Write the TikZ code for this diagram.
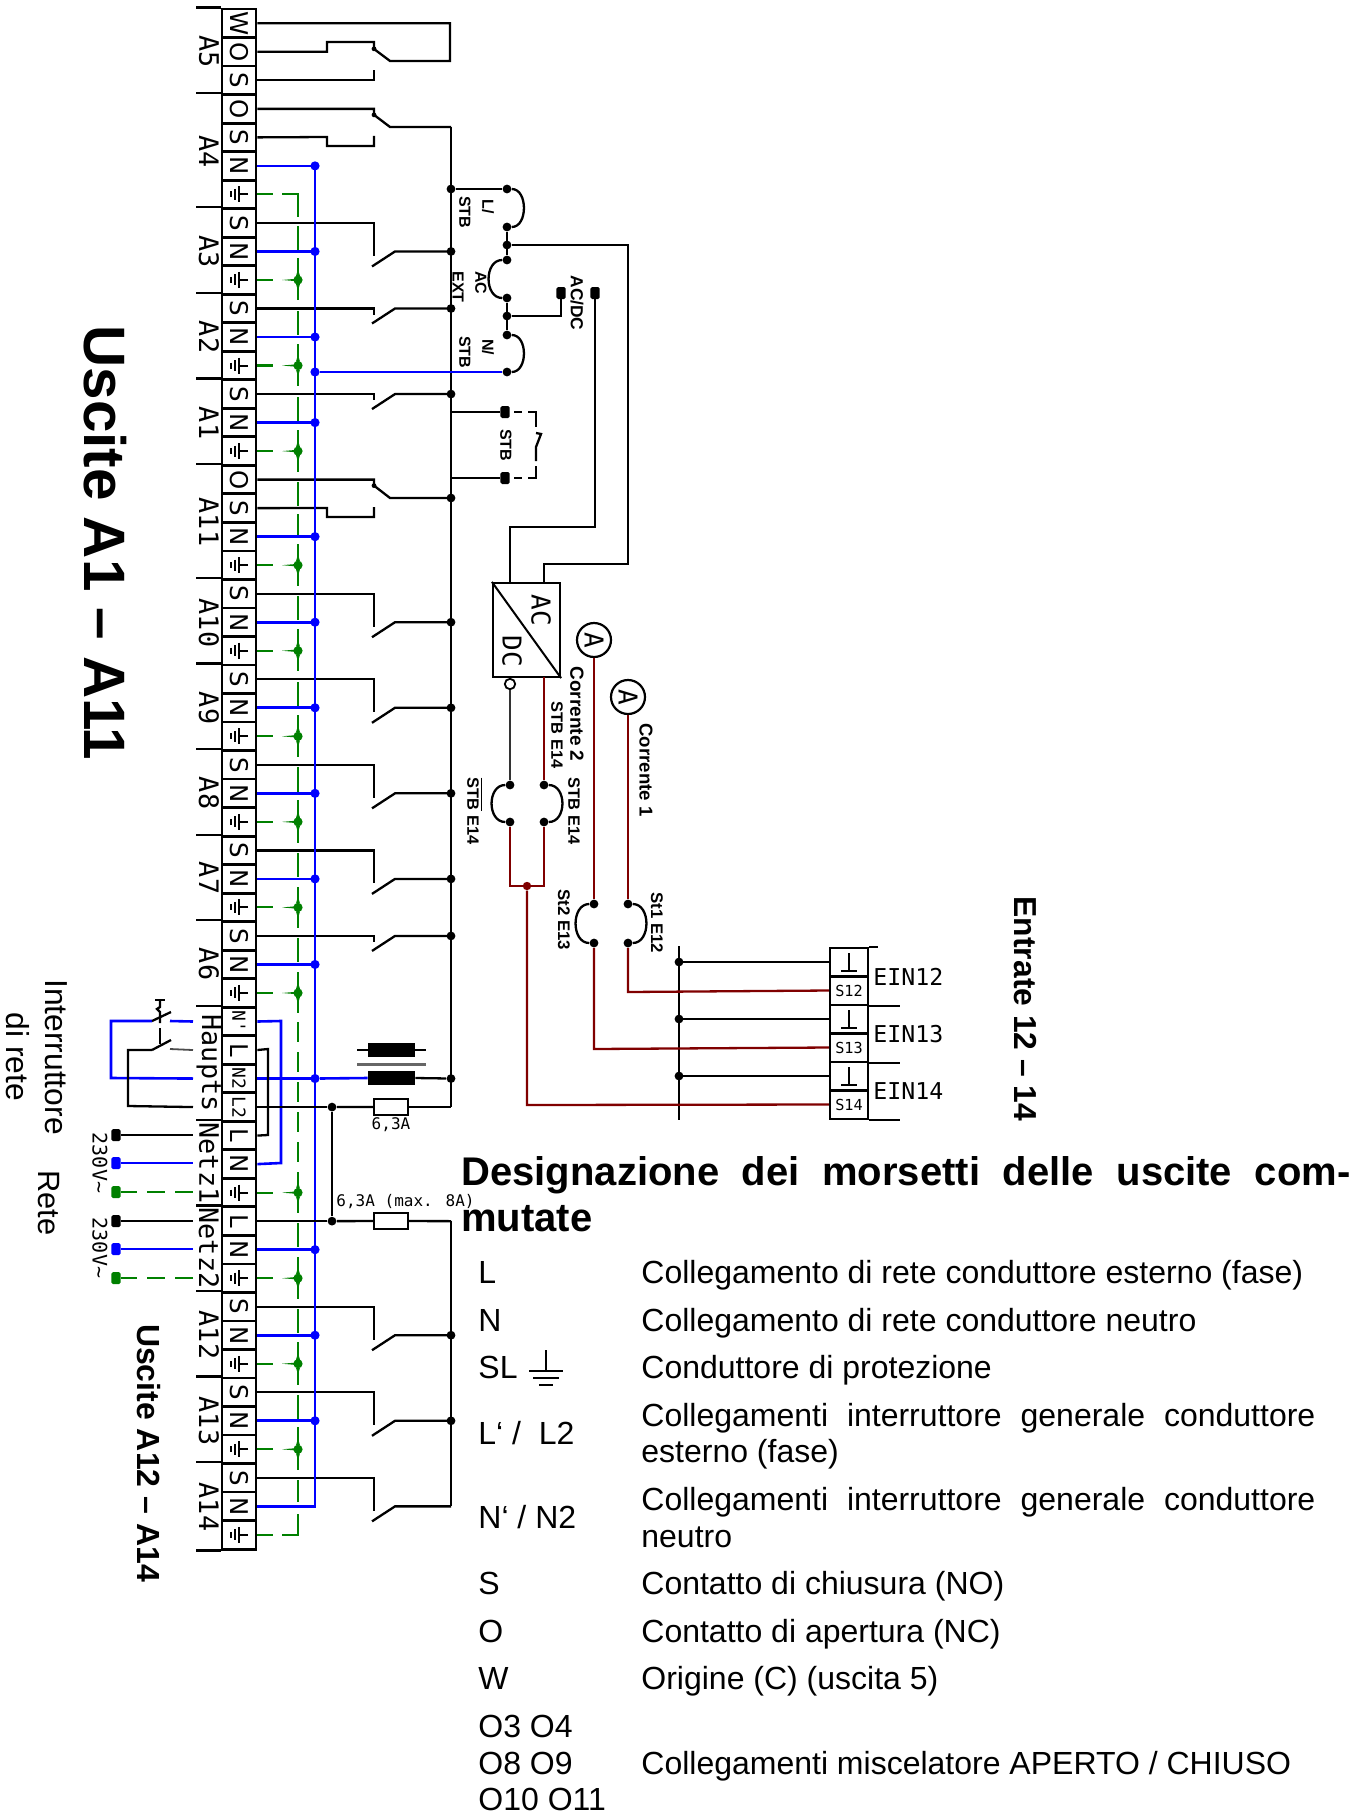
\documentclass[tikz,border=0pt]{standalone}
\usepackage{graphicx}
\usepackage{fontspec}
\setmainfont{Liberation Sans}
\newfontfamily\monof{DejaVu Sans Mono}
\newfontfamily\dejav{DejaVu Sans}
\newcommand{\rot}[1]{\rotatebox{-90}{#1}}
\newcommand{\fsz}[1]{\fontsize{#1}{#1}\selectfont}
\definecolor{wblue}{HTML}{0000FF}
\definecolor{wgreen}{HTML}{008000}
\definecolor{wred}{HTML}{800000}
\tikzset{
  term/.style={draw,line width=1.4pt,fill=white,minimum width=17pt,minimum height=14.26pt,inner sep=0pt,font=\dejav\fsz{12.2}},
  termsm/.style={term,font=\monof\fsz{9}},
  w/.style={line width=1.15pt,black},
  wb/.style={line width=1.3pt,wblue},
  wg/.style={line width=1.05pt,wgreen},
  wr/.style={line width=1.15pt,wred},
  jd/.style={circle,fill=black,inner sep=0pt,minimum size=4.4pt},
  jb/.style={circle,fill=wblue,inner sep=0pt,minimum size=4.6pt},
  jg/.style={circle,fill=wgreen,inner sep=0pt,minimum size=4.6pt},
  jr/.style={circle,fill=wred,inner sep=0pt,minimum size=4.2pt},
  sq/.style={rounded corners=.8pt,fill=black,inner sep=0pt,minimum width=4.6pt,minimum height=6pt},
  grp/.style={font=\monof\fsz{13.4},inner sep=0pt,rotate=-90},
  mono/.style={font=\monof\fsz{8},inner sep=0pt},
  lab/.style={font=\bfseries\fsz{8},inner sep=0pt,rotate=-90},
  fuse/.style={draw,line width=1.1pt,fill=white,minimum width=17pt,minimum height=8pt,inner sep=0pt},
  choke/.style={fill=black,minimum width=23.5pt,minimum height=7pt,inner sep=0pt},
  meter/.style={circle,draw,line width=1.1pt,fill=white,minimum size=17pt,inner sep=0pt,font=\monof\fsz{13}},
  leg/.style={anchor=base west,inner sep=0pt,font=\fsz{16}},
  hd/.style={anchor=base west,inner sep=0pt,font=\bfseries\fsz{20}},
  ein/.style={draw,line width=1.2pt,fill=white,minimum width=19pt,minimum height=14.2pt,inner sep=0pt},
  einl/.style={font=\monof\fsz{11.6},anchor=west,inner sep=0pt},
}
\begin{document}
\begin{tikzpicture}[x=0.5pt,y=-0.5pt]
\path[use as bounding box] (0,0) rectangle (1368,1814);
% ---- reference coordinates
\coordinate (gbus) at (298,0);
\coordinate (nbus) at (315,0);
\coordinate (cpin) at (374,0);
\coordinate (lbus) at (451,0);
\coordinate (jx) at (332,0);
\coordinate (swl) at (193,0);

% ---- terminal strip
\foreach \i/\t in {0/W,1/O,2/S,3/O,4/S,5/N,7/S,8/N,10/S,11/N,13/S,14/N,16/O,17/S,18/N,20/S,21/N,23/S,24/N,26/S,27/N,29/S,30/N,32/S,33/N,36/L,39/L,40/N,42/L,43/N,45/S,46/N,48/S,49/N,51/S,52/N}
  {\node[term] (t\i) at (239,{23.3+28.52*\i}) {\rot{\t}};}
\foreach \i/\t in {35/N',37/N2,38/L2}
  {\node[termsm] (t\i) at (239,{23.3+28.52*\i}) {\rot{\t}};}
\foreach \i in {6,9,12,15,19,22,25,28,31,34,41,44,47,50,53}{
  \node[term] (t\i) at (239,{23.3+28.52*\i}) {};
  \draw[line width=1pt] (t\i.center) ++(9,0) -- ++(-9,0) ++(0,-8) -- ++(0,16) ++(-4,-13.5) -- ++(0,11) ++(-4,-8.5) -- ++(0,6);
}
% group ticks
\foreach \i in {0,3,7,10,13,16,20,23,26,29,32,35,39,42,45,48,51}
  {\draw[w] (t\i.north west) -- ++(-25,0);}
\draw[w] (t53.south west) -- ++(-25,0);
% group labels
\foreach \n/\y/\t in {g1/52/A5,g2/152/A4,g3/252/A3,g4/337/A2,g5/423/A1,g6/522/A11,g7/623/A10,g8/708/A9,g9/793/A8,g10/878/A7,g11/964/A6,g12/1335/A12,g13/1421/A13,g14/1507/A14,g15/1063/Haupts,g16/1163/Netz1,g17/1248/Netz2}
  {\node[grp] (\n) at (209,\y) {\t};}

% ---- green earth bus
\foreach \a/\b in {226/250,258/300,311/335,344/386,397/421,430/472,482/506,514/536,544/586,596/620,629/671,682/706,715/757,767/792,800/843,853/877,887/928,938/962,972/1013,1022/1042,1052/1072,1082/1102,1112/1132,1142/1162,1172/1213,1223/1247,1257/1299,1309/1333,1342/1385,1395/1420,1427/1470,1480/1502}
  {\draw[wg] (gbus |- 0,\a) -- (gbus |- 0,\b);}
\draw[wg] (t6 -| gbus) ++(-16,0) -- (t6 -| gbus) -- ++(0,23);
\draw[wg] (t53 -| gbus) ++(-16,0) -- (t53 -| gbus) -- ++(0,-21);
\draw[wg] (t6.east) -- ++(16,0);
\draw[wg] (t53.east) -- ++(16,0);
\foreach \i in {9,12,15,19,22,25,28,31,34,41,44,47,50}{
  \draw[wg] (t\i.east) -- ++(16,0);
  \fill[wgreen] (t\i -| gbus) ++(-16,0) .. controls +(11,-1) and +(-1,1) .. ++(16,-2) -- ++(0,4) .. controls +(-1,-1) and +(11,1) .. ++(-16,-2) -- cycle;
  \fill[wgreen] (t\i -| gbus) ++(0,-18) .. controls +(.3,10) and +(-1,-3) .. ++(2,14) -- ++(-4,0) .. controls +(1,-3) and +(-.3,10) .. ++(2,-14) -- cycle;
  \fill[wgreen] (t\i -| gbus) ++(0,18) .. controls +(.3,-10) and +(-1,3) .. ++(2,-14) -- ++(-4,0) .. controls +(1,3) and +(-.3,-10) .. ++(2,14) -- cycle;
  \node[jg] (dg\i) at (t\i -| gbus) {};
}

% ---- black contacts: long pin type
\foreach \s/\n in {7/8,20/21,23/24,26/27,29/30,45/46,48/49,51/52}{
  \draw[w] (t\s.east) -- (t\s -| cpin) -- ++(0,33);
  \draw[w] (t\n -| cpin) ++(-2,15) -- ++(23,-15) -- (t\n -| lbus);
}
% short pin type
\foreach \s in {10,13,32}{
  \draw[w] (t\s.east) -- (t\s -| cpin) -- ++(0,6);
  \draw[w] (t\s -| cpin) ++(-2,15) -- ++(23,-15) -- (t\s -| lbus);
}
% changeover contacts
\draw[w] (t0.east) -- (450,23.3) coordinate (c0) -- (450,61) coordinate (c1) -- (390,61) -- (374,49) -- (374,42) -- (327,42) -- (327,51.8) -- (t1.east);
\draw[w] (t2.east) -- (t2 -| cpin) -- ++(0,-10);
\draw[w] (t3.east) -- (t3 -| cpin) -- ++(0,6) -- (390,127) -- (lbus |- 0,127) coordinate (bustop);
\draw[w] (t4.east) -- (327,137) -- (327,146) -- (374,146) -- (374,136);
\draw[w] (t16.east) -- (t16 -| cpin) -- ++(0,6) -- (390,498) -- (lbus |- 0,498) coordinate (busO);
\draw[w] (t17.east) -- (327,508) -- (327,517) -- (374,517) -- (374,507);
\foreach \i in {1,3,16}{\fill (t\i -| cpin) ++(0,{\i==1?-3:6}) circle (2.4);}

% ---- black buses
\draw[line width=1.35pt] (bustop) -- (lbus |- 0,1107) coordinate (busbot);
\draw[line width=1.35pt] (lbus |- t42) -- (t52 -| lbus);
\foreach \i in {8,10,13,21,24,27,30,32,46,49}{\node[jd] (dk\i) at (t\i -| lbus) {};}
\node[jd] (dk16) at (busO) {};
\node[jd] (dk37) at (t37 -| lbus) {};

% ---- blue neutral bus
\draw[line width=1.3pt,wblue] (t5 -| nbus) -- (t52 -| nbus) -- (t52.east);
\foreach \i in {5,8,11,14,18,21,24,27,30,33,37,43,46,49}{
  \draw[wb] (t\i.east) -- (t\i -| nbus);
  \node[jb] (db\i) at (t\i -| nbus) {};
}

% ---- jumpers at the supply side
\draw[wb] (t35.east) -- (281,1021) -- (281,1163) -- (t40.east);
\draw[w] (t36.east) -- (268,1049) -- (268,1135) -- (t39.east);

% ---- right-hand jumpers
\node[jd] (ja) at (507,189) {};
\node[jd] (jb1) at (507,227) {};
\node[jd] (jc) at (507,245) {};
\node[jd] (jd1) at (507,260) {};
\node[jd] (je) at (507,298) {};
\node[jd] (jf) at (507,316) {};
\node[jd] (jg1) at (507,335) {};
\node[jd] (jh) at (507,372) {};
\node[jb] (jbl2) at (nbus |- jh) {};
\node[jd] (jtop) at (lbus |- ja) {};
\draw[line width=1.4pt] (jtop) -- (ja);
\draw[w] (ja) .. controls +(21,0) and +(21,0) .. (jb1);
\draw[line width=1.4pt] (jb1) -- (jd1);
\draw[w] (jd1) .. controls +(-23,0) and +(-23,0) .. (je);
\draw[line width=1.4pt] (je) -- (jg1);
\draw[w] (jg1) .. controls +(21,0) and +(21,0) .. (jh);
\draw[wb] (jbl2) -- (jh);
% AC/DC terminals and leads
\node[sq] (s1) at (561,293) {};
\node[sq] (s2) at (595,293) {};
\draw[w] (jf) -- (jf -| s1) -- (s1);
\node[draw,line width=1.1pt,minimum width=33.5pt,minimum height=47pt,inner sep=0pt] (conv) at (526.5,630) {};
\draw[line width=1pt] (conv.north west) -- (conv.south east);
\draw[w] (s2) -- (595,527) -- (510,527) -- (510,0 |- conv.north);
\draw[w] (jc) -- (628,245) -- (628,564) -- (544,564) -- (544,0 |- conv.north);
\node[font=\monof\fsz{13},inner sep=0pt] (tac) at (541,610) {\rot{AC}};
\node[font=\monof\fsz{13},inner sep=0pt] (tdc) at (512,651) {\rot{DC}};

% ---- STB contact
\node[sq] (s3) at (505,412) {};
\node[sq] (s4) at (505,478) {};
\draw[w] (lbus |- t13) -- (lbus |- s3) -- (s3);
\draw[w] (s4) -- (lbus |- s4) -- (busO);
\draw[line width=1pt] (514,412) -- (522,412);
\draw[line width=1pt] (528,412) -- (536,412) -- (536,427);
\draw[line width=1pt] (514,478) -- (522,478);
\draw[line width=1pt] (528,478) -- (536,478) -- (536,466);
\draw[w] (536,433) -- (541,434) -- (536,447) -- (536,461);

% ---- lower wiring
\node[circle,draw,line width=.9pt,fill=white,minimum size=5.2pt,inner sep=0pt] (oc) at (510,684) {};
\node[jd] (k1) at (510,785) {};
\node[jd] (k2) at (510,822) {};
\node[jd] (k3) at (544,785) {};
\node[jd] (k4) at (544,822) {};
\draw[line width=1.3pt,black!80] (oc) -- (k1);
\draw[w] (k1) .. controls +(-23,0) and +(-23,0) .. (k2);
\draw[w] (k3) .. controls +(23,0) and +(23,0) .. (k4);
\draw[wr] (544,677) -- (k3);
\draw[wr] (k2) -- (510,886) -- (544,886) -- (k4);
\node[jr] (k5) at (527,886) {};

\node[meter] (m2) at (594,640) {\rot{A}};
\node[meter] (m1) at (628,697) {\rot{A}};
\node[jd] (k6) at (594,904) {};
\node[jd] (k7) at (594,943) {};
\node[jd] (k8) at (628,904) {};
\node[jd] (k9) at (628,943) {};
\draw[wr] (m2) -- (k6);
\draw[wr] (m1) -- (k8);
\draw[w] (k6) .. controls +(-23,0) and +(-23,0) .. (k7);
\draw[w] (k8) .. controls +(23,0) and +(23,0) .. (k9);

% ---- input block
\foreach \n/\y in {b1/962,b3/1019,b5/1076}
  {\node[ein] (\n) at (849,\y) {};}
\foreach \n/\y/\t in {b2/990.5/S12,b4/1047.5/S13,b6/1104.5/S14}
  {\node[ein,font=\monof\fsz{7.6}] (\n) at (849,\y) {\t};}
\foreach \n in {b1,b3,b5}{
  \draw[w] (\n.center) ++(0,-9) -- ++(0,18) ++(-8,0) -- ++(16,0);
}
\coordinate (vb) at (679,0);
\draw[line width=1.3pt] (vb |- 0,946) -- (vb |- 0,1120);
\foreach \n/\m in {b1/d1,b3/d3,b5/d5}{
  \draw[line width=1.3pt] (\n.west) -- (\n -| vb);
  \node[jd] (\m) at (\n -| vb) {};
}
\draw[wr] (k9) -- (628,992) -- (b2.west);
\draw[wr] (k7) -- (594,1049) -- (b4.west);
\draw[wr] (k5) -- (527,1105) -- (b6.west);
\draw[line width=1.1pt] (b1.north east) -- +(9,0);
\draw[line width=1.1pt] (b2.south east) -- +(31,0);
\draw[line width=1.1pt] (b4.south east) -- +(31,0);
\draw[line width=1.1pt] (b6.south east) -- +(31,0);
\node[einl] (e12) at (873,977) {EIN12};
\node[einl] (e13) at (873,1034) {EIN13};
\node[einl] (e14) at (873,1091) {EIN14};

% ---- supply: chokes and fuses
\node[choke] (ch1) at (391.5,1050) {};
\node[choke] (ch2) at (391.5,1078) {};
\draw[w] (ch1.west) -- ++(-11,0);
\draw[w] (ch1.east) -- ++(11,0);
\draw[line width=1.5pt,black!60] (357,1064) -- (426,1064);
\draw[wb] (db37) -- (ch2.west);
\draw[w] (ch2.east) -- (dk37);
\node[jd] (j38) at (t38 -| jx) {};
\node[jd] (j42) at (t42 -| jx) {};
\draw[w] (t38.east) -- (j38);
\draw[w] (t42.east) -- (j42);
\draw[line width=1.3pt] (j38) -- (j42);
\node[fuse] (f1) at (391,1107) {};
\node[fuse] (f2) at (391,1221) {};
\draw[w] (j38) -- (f1);
\draw[w] (f1) -- (busbot);
\draw[w] (j42) -- (f2);
\draw[w] (f2) -- (lbus |- t42);
\node[mono] (f1t) at (391,1125) {6,3A};
\node[mono] (f2t) at (405.5,1202) {6,3A (max. 8A)};

% ---- main switch
\coordinate (sa) at (152,1021);
\coordinate (sb) at (152,1050);
\draw[wb] (swl |- t35) -- (170,1021);
\draw[wb] (sa) -- (111,1021) -- (111,1078) -- (swl |- t37);
\draw[w] (sa) -- (171,1012);
\draw[w] (sb) -- (171,1040);
\draw[w] (155,1000) -- (165,1000);
\draw[w] (160,1000) -- (160,1007) -- (157,1009) -- (160,1012) -- (160,1023);
\draw[w] (160,1028) -- (160,1044);
\draw[w] (sb) -- (128,1050) -- (128,1106) -- (swl |- t38);
\draw[line width=.9pt,black!70] (170,1049) -- (swl |- t36);

% ---- mains leads
\node[sq] (p1) at (116,1135) {};
\node[sq,fill=wblue] (p2) at (116,1163) {};
\node[sq,fill=wgreen] (p3) at (116,1192) {};
\node[sq] (p4) at (116,1221) {};
\node[sq,fill=wblue] (p5) at (116,1249) {};
\node[sq,fill=wgreen] (p6) at (116,1278) {};
\draw[line width=1.4pt] (p1) -- (swl |- p1);
\draw[line width=1.4pt] (p4) -- (swl |- p4);
\draw[line width=1.4pt,wblue] (p2) -- (swl |- p2);
\draw[line width=1.4pt,wblue] (p5) -- (swl |- p5);
\foreach \p in {p3,p6}{
  \draw[line width=1.3pt,wgreen] (\p) -- ++(21,0) ++(10,0) -- ++(18,0) ++(10,0) -- (swl |- \p);
}
\node[mono,rotate=-90,font=\monof\fsz{10}] (v1) at (100,1163) {230V\textasciitilde};
\node[mono,rotate=-90,font=\monof\fsz{10}] (v2) at (100,1248) {230V\textasciitilde};

% ---- small labels
\node[lab] (l1) at (488,207) {L/};
\node[lab] (l2) at (465,212) {STB};
\node[lab] (l3) at (481,283) {AC};
\node[lab] (l4) at (458,287) {EXT};
\node[lab] (l5) at (488,347) {N/};
\node[lab] (l6) at (465,352) {STB};
\node[lab,font=\bfseries\fsz{8.7}] (l7) at (577,303) {AC/DC};
\node[lab] (l8) at (506,445) {STB};
\node[lab,font=\bfseries\fsz{9.5}] (l9) at (577,714) {Corrente 2};
\node[lab,font=\bfseries\fsz{9.3}] (l10) at (646,770) {Corrente 1};
\node[lab,font=\bfseries\fsz{8.2}] (l11) at (557,735) {STB E14};
\node[lab,font=\bfseries\fsz{8.2}] (l12) at (574,811) {STB E14};
\node[lab,font=\bfseries\fsz{8.2}] (l13) at (475,811) {$\overline{\hbox{STB}}$ E14};
\node[lab,font=\bfseries\fsz{8.4}] (l14) at (564,920) {St2 E13};
\node[lab,font=\bfseries\fsz{8.4}] (l15) at (657,923) {St1 E12};

% ---- large side titles
\node[rotate=-90,inner sep=0pt,font=\bfseries\fsz{29.2}] (h1) at (105,543) {Uscite A1 – A11};
\node[rotate=-90,inner sep=0pt,font=\bfseries\fsz{16}] (h2) at (149,1453) {Uscite A12 – A14};
\node[rotate=-90,inner sep=0pt,font=\bfseries\fsz{15.9}] (h3) at (1025,1009) {Entrate 12 – 14};
\node[rotate=-90,inner sep=0pt,align=center,font=\fontsize{15.9}{19.5}\selectfont] (h4) at (37,1057) {Interruttore\\di rete};
\node[rotate=-90,inner sep=0pt,font=\fsz{15.4}] (h5) at (49,1203) {Rete};

% ---- legend
\node[hd] (d1) at (461,1185) {\hbox to 444.5pt{Designazione\hfill dei\hfill morsetti\hfill delle\hfill uscite\hfill com-}};
\node[hd] (d2) at (461,1231) {mutate};
\node[leg] (a1) at (478,1283) {L};
\node[leg] (a2) at (478,1331) {N};
\node[leg] (a3) at (478,1378) {SL};
\node[leg] (a4) at (478,1444) {L‘ /\ \ L2};
\node[leg] (a5) at (478,1528) {N‘ / N2};
\node[leg] (a6) at (478,1594) {S};
\node[leg] (a7) at (478,1642) {O};
\node[leg] (a8) at (478,1689) {W};
\node[leg] (a9) at (478,1737) {O3 O4};
\node[leg] (a10) at (478,1774) {O8 O9};
\node[leg] (a11) at (478,1810) {O10 O11};
\node[leg] (b11) at (641,1283) {Collegamento di rete conduttore esterno (fase)};
\node[leg] (b12) at (641,1331) {Collegamento di rete conduttore neutro};
\node[leg] (b13) at (641,1378) {Conduttore di protezione};
\node[leg] (b14) at (641,1426) {\hbox to 337pt{Collegamenti\hfill interruttore\hfill generale\hfill conduttore}};
\node[leg] (b15) at (641,1462) {esterno (fase)};
\node[leg] (b16) at (641,1510) {\hbox to 337pt{Collegamenti\hfill interruttore\hfill generale\hfill conduttore}};
\node[leg] (b17) at (641,1547) {neutro};
\node[leg] (b18) at (641,1594) {Contatto di chiusura (NO)};
\node[leg] (b19) at (641,1642) {Contatto di apertura (NC)};
\node[leg] (b20) at (641,1689) {Origine (C) (uscita 5)};
\node[leg] (b21) at (641,1774) {Collegamenti miscelatore APERTO / CHIUSO};
% earth symbol of the legend
\coordinate (se) at (546,1350);
\draw[line width=.9pt] (se) -- ++(0,21);
\draw[line width=1pt] (se) ++(-17,21) -- ++(34,0);
\draw[line width=1.2pt] (se) ++(-13,28) -- ++(26,0);
\draw[line width=1.2pt] (se) ++(-7,35) -- ++(14,0);
\end{tikzpicture}
\end{document}
